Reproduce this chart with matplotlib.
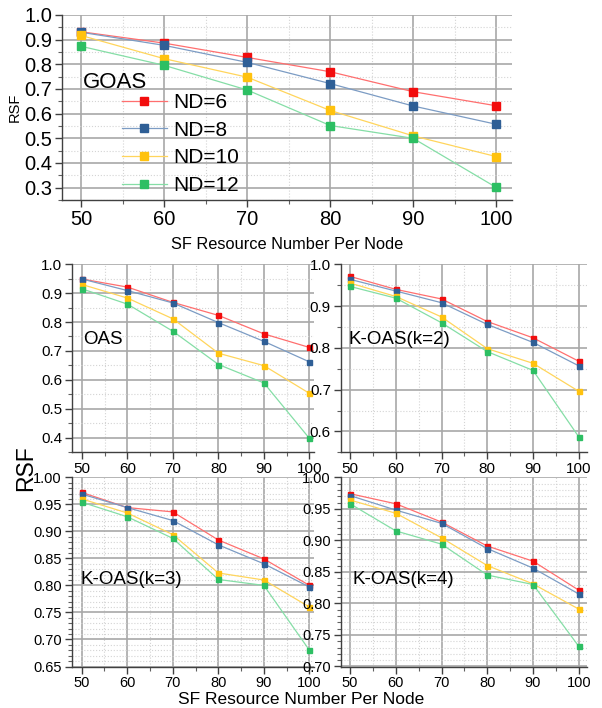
import matplotlib
matplotlib.use("Agg")
import matplotlib.pyplot as plt
from matplotlib.ticker import MultipleLocator

plt.rcParams['font.family'] = ['Liberation Sans', 'DejaVu Sans']

# ---- data ----
sf = [50, 60, 70, 80, 90, 100]
labels = ['ND=6', 'ND=8', 'ND=10', 'ND=12']

goas = [[0.932, 0.886, 0.828, 0.770, 0.689, 0.632],
        [0.930, 0.877, 0.808, 0.722, 0.631, 0.557],
        [0.917, 0.823, 0.748, 0.613, 0.510, 0.426],
        [0.873, 0.796, 0.696, 0.552, 0.500, 0.301]]

oas = [[0.949, 0.921, 0.868, 0.823, 0.759, 0.712],
       [0.949, 0.909, 0.866, 0.798, 0.733, 0.662],
       [0.930, 0.883, 0.811, 0.692, 0.649, 0.553],
       [0.915, 0.862, 0.768, 0.653, 0.589, 0.397]]

koas2 = [[0.971, 0.940, 0.917, 0.863, 0.824, 0.768],
         [0.964, 0.936, 0.908, 0.856, 0.813, 0.757],
         [0.955, 0.923, 0.874, 0.798, 0.763, 0.696],
         [0.947, 0.919, 0.860, 0.791, 0.746, 0.587]]

koas3 = [[0.972, 0.944, 0.936, 0.884, 0.849, 0.800],
         [0.969, 0.944, 0.920, 0.875, 0.840, 0.797],
         [0.960, 0.934, 0.894, 0.823, 0.810, 0.760],
         [0.954, 0.927, 0.887, 0.811, 0.800, 0.680]]

koas4 = [[0.974, 0.958, 0.929, 0.891, 0.867, 0.821],
         [0.971, 0.948, 0.927, 0.887, 0.856, 0.815],
         [0.964, 0.943, 0.904, 0.860, 0.831, 0.791],
         [0.958, 0.915, 0.894, 0.845, 0.830, 0.732]]

mark_col = ['#f20d0d', '#2f5f96', '#ffc20e', '#2dbf63']
line_col = ['#ff6f6f', '#7c9cc4', '#ffd55c', '#85dea6']

W, H = 602, 708
fig = plt.figure(figsize=(W / 100, H / 100), dpi=100)


def px_axes(left, top, right, bottom):
    return fig.add_axes([left / W, 1 - bottom / H, (right - left) / W, (bottom - top) / H])


def style(ax, xlim, ylim, ymaj, ymin, fs, yfmt):
    ax.set_xlim(*xlim)
    ax.set_ylim(*ylim)
    ax.xaxis.set_major_locator(MultipleLocator(10))
    ax.xaxis.set_minor_locator(MultipleLocator(5))
    ax.yaxis.set_major_locator(MultipleLocator(ymaj))
    ax.yaxis.set_minor_locator(MultipleLocator(ymin))
    ax.yaxis.set_major_formatter(yfmt)
    for s in ['top', 'right']:
        ax.spines[s].set_visible(False)
    for s in ['left', 'bottom']:
        ax.spines[s].set_color('#404040')
        ax.spines[s].set_linewidth(1.0)
    ax.grid(True, which='major', color='#a8a8a8', lw=1.2, ls='-')
    ax.grid(True, which='minor', color='#d4d4d4', lw=0.8, ls=':')
    ax.set_axisbelow(True)
    ax.tick_params(which='major', direction='out', length=5, width=1, color='#404040',
                   labelsize=fs, pad=2)
    ax.tick_params(which='minor', direction='out', length=3, width=0.8, color='#606060')


def draw(ax, data, ms):
    for i, ys in enumerate(data):
        ax.plot(sf, ys, color=line_col[i], lw=0.9, marker='s', ms=ms,
                mfc=mark_col[i], mec=mark_col[i], zorder=3, label=labels[i])


# top panel: GOAS
ax0 = px_axes(62, 15, 512, 200)
style(ax0, (47.7, 101.9), (0.25, 1.0), 0.1, 0.05, 14.5, '{x:.1f}')
draw(ax0, goas, 5.2)
ax0.set_xlabel('SF Resource Number Per Node', fontsize=11.8, labelpad=6)
ax0.set_ylabel('RSF', fontsize=10.5)
ax0.yaxis.set_label_coords((21.5 - 62) / 450, 0.5)
fig.text(83 / W, 1 - 82 / H, 'GOAS', fontsize=16, va='center', ha='left')
ax0.legend(loc='center left', bbox_to_anchor=((122 - 62) / 450, (200 - 144) / 185),
           frameon=False, fontsize=15, handlelength=2.15, handletextpad=0.3,
           labelspacing=0.42, borderpad=0, borderaxespad=0)

# OAS
ax1 = px_axes(72, 264.3, 314, 452)
style(ax1, (47.8, 101.0), (0.35, 1.0), 0.1, 0.05, 11, '{x:.1f}')
draw(ax1, oas, 3.6)
fig.text(83 / W, 1 - 340 / H, 'OAS', fontsize=13.5, va='center', ha='left')

# K-OAS(k=2)
ax2 = px_axes(340.7, 264.3, 587, 452.3)
style(ax2, (47.95, 101.8), (0.55, 1.0), 0.1, 0.05, 11, '{x:.1f}')
draw(ax2, koas2, 3.6)
fig.text(349 / W, 1 - 340 / H, 'K-OAS(k=2)', fontsize=13.5, va='center', ha='left')

# K-OAS(k=3)
ax3 = px_axes(71.7, 477.3, 314, 666.5)
style(ax3, (47.8, 101.0), (0.65, 1.0), 0.05, 0.01, 10.5, '{x:.2f}')
draw(ax3, koas3, 3.6)
fig.text(81 / W, 1 - 579 / H, 'K-OAS(k=3)', fontsize=13.5, va='center', ha='left')

# K-OAS(k=4)
ax4 = px_axes(340.7, 477.3, 587, 666.5)
style(ax4, (47.95, 101.8), (0.70, 1.0), 0.05, 0.01, 10.5, '{x:.2f}')
draw(ax4, koas4, 3.6)
fig.text(352 / W, 1 - 579 / H, 'K-OAS(k=4)', fontsize=13.5, va='center', ha='left')

# shared labels for the four small panels
fig.text(26 / W, 1 - 468 / H, 'RSF', fontsize=16.5, rotation=90, va='center', ha='center')
fig.text(301 / W, 1 - 699 / H, 'SF Resource Number Per Node', fontsize=12.5,
         va='center', ha='center')

fig.savefig('out.png', dpi=100)
